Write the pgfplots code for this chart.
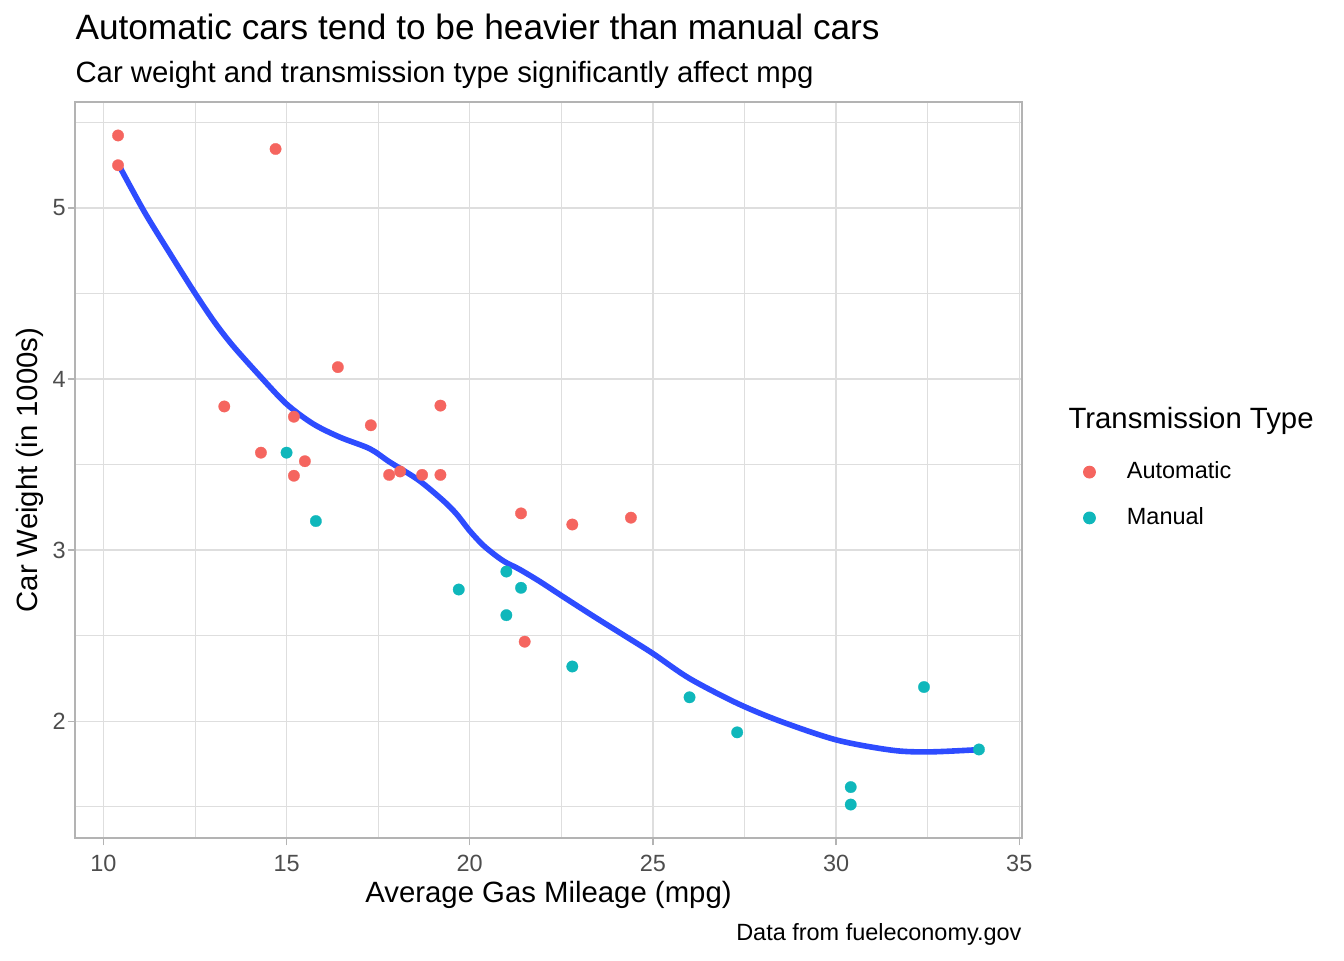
\documentclass[border=0pt]{standalone}
\usepackage{fontspec}
\setmainfont{Liberation Sans}
\usepackage{pgfplots}
\pgfplotsset{compat=1.18}
\definecolor{autoc}{HTML}{F5655F}
\definecolor{manc}{HTML}{0FB7BB}
\definecolor{loessc}{HTML}{2E4CFF}
\definecolor{grid87}{HTML}{DEDEDE}
\definecolor{grey70}{HTML}{B3B3B3}
\definecolor{grey30}{HTML}{4D4D4D}
\pgfplotstableread{
mpg wt
21.4 3.215
18.7 3.440
18.1 3.460
14.3 3.570
24.4 3.190
22.8 3.150
19.2 3.440
17.8 3.440
16.4 4.070
17.3 3.730
15.2 3.780
10.4 5.250
10.4 5.424
14.7 5.345
21.5 2.465
15.5 3.520
15.2 3.435
13.3 3.840
19.2 3.845
}\autodata
\pgfplotstableread{
mpg wt
21.0 2.620
21.0 2.875
22.8 2.320
32.4 2.200
30.4 1.615
33.9 1.835
27.3 1.935
26.0 2.140
30.4 1.513
15.8 3.170
19.7 2.770
15.0 3.570
21.4 2.780
}\mandata
\pgfplotstableread{
mpg wt
10.40 5.259
11.12 4.977
11.85 4.723
12.48 4.509
13.03 4.334
13.53 4.196
14.26 4.021
14.99 3.856
15.72 3.739
16.45 3.661
17.27 3.593
17.81 3.516
18.60 3.410
19.28 3.289
19.64 3.211
20.00 3.113
20.36 3.030
20.72 2.967
20.99 2.928
21.35 2.889
21.89 2.820
22.52 2.732
23.15 2.645
23.51 2.596
24.25 2.497
25.00 2.396
26.00 2.250
27.32 2.103
28.53 1.996
30.04 1.889
31.55 1.830
32.56 1.821
33.90 1.834
}\loessdata
\begin{document}
\begin{tikzpicture}
\path[use as bounding box] (0,0) rectangle (504pt,360pt);
\begin{axis}[
  at={(28.125pt,45.75pt)}, anchor=south west,
  scale only axis, width=355.125pt, height=276pt,
  xmin=9.225, xmax=35.075, ymin=1.3175, ymax=5.6196,
  xtick={10,15,20,25,30,35}, ytick={2,3,4,5},
  minor xtick={12.5,17.5,22.5,27.5,32.5},
  minor ytick={1.5,2.5,3.5,4.5,5.5},
  grid=both,
  major grid style={draw=grid87, line width=0.53pt},
  minor grid style={draw=grid87, line width=0.27pt},
  minor tick length=0pt,
  major tick length=2.75pt,
  tick align=outside,
  tick style={draw=grey70, line width=0.53pt},
  xtick pos=bottom, ytick pos=left,
  axis line style={draw=grey70, line width=1.07pt},
  /pgf/number format/assume math mode=true,
  ticklabel style={font=\fontsize{8.8}{10}\selectfont, text=grey30, inner sep=0pt},
  xticklabel style={anchor=base, yshift=-9.75pt},
  yticklabel style={anchor=east, xshift=-0.5pt},
  every axis x label/.style={at={(axis description cs:0.5,-0.0882)}, anchor=base, font=\fontsize{11}{13}\selectfont, inner sep=0pt},
  every axis y label/.style={at={(axis description cs:-0.0401,0.5)}, rotate=90, anchor=base, font=\fontsize{11}{13}\selectfont, inner sep=0pt},
  xlabel={Average Gas Mileage (mpg)},
  ylabel={Car Weight (in 1000s)},
  legend style={at={(axis description cs:1.06449,0.5114)}, anchor=north west,
    draw=none, fill=none, inner sep=0pt, outer sep=0pt,
    font=\fontsize{8.8}{10}\selectfont,
    nodes={inner sep=0pt, anchor=west},
    column sep=11.65pt, row sep=9.3pt},
  legend cell align=left,
  legend image code/.code={\fill (0pt,0pt) circle (2.2pt);},
]
\addplot[only marks, mark=*, mark size=2.15pt, color=autoc, mark options={fill=autoc, draw=autoc, line width=0.1pt}] table[x=mpg,y=wt] {\autodata};
\addlegendentry{Automatic}
\addplot[only marks, mark=*, mark size=2.15pt, color=manc, mark options={fill=manc, draw=manc, line width=0.1pt}] table[x=mpg,y=wt] {\mandata};
\addlegendentry{Manual}
\addplot[forget plot, color=loessc, line width=2.1pt, smooth, tension=0.5] table[x=mpg,y=wt] {\loessdata};
\end{axis}
\node[anchor=base west, inner sep=0pt, font=\fontsize{13.2}{15}\selectfont] at (28.125pt,345pt) {Automatic cars tend to be heavier than manual cars};
\node[anchor=base west, inner sep=0pt, font=\fontsize{11}{13}\selectfont] at (28.125pt,328.9pt) {Car weight and transmission type significantly affect mpg};
\node[anchor=base east, inner sep=0pt, font=\fontsize{8.8}{10}\selectfont] at (383.25pt,7.5pt) {Data from fueleconomy.gov};
\node[anchor=base west, inner sep=0pt, font=\fontsize{11}{13}\selectfont] at (400.5pt,199.5pt) {Transmission Type};
\end{tikzpicture}
\end{document}
